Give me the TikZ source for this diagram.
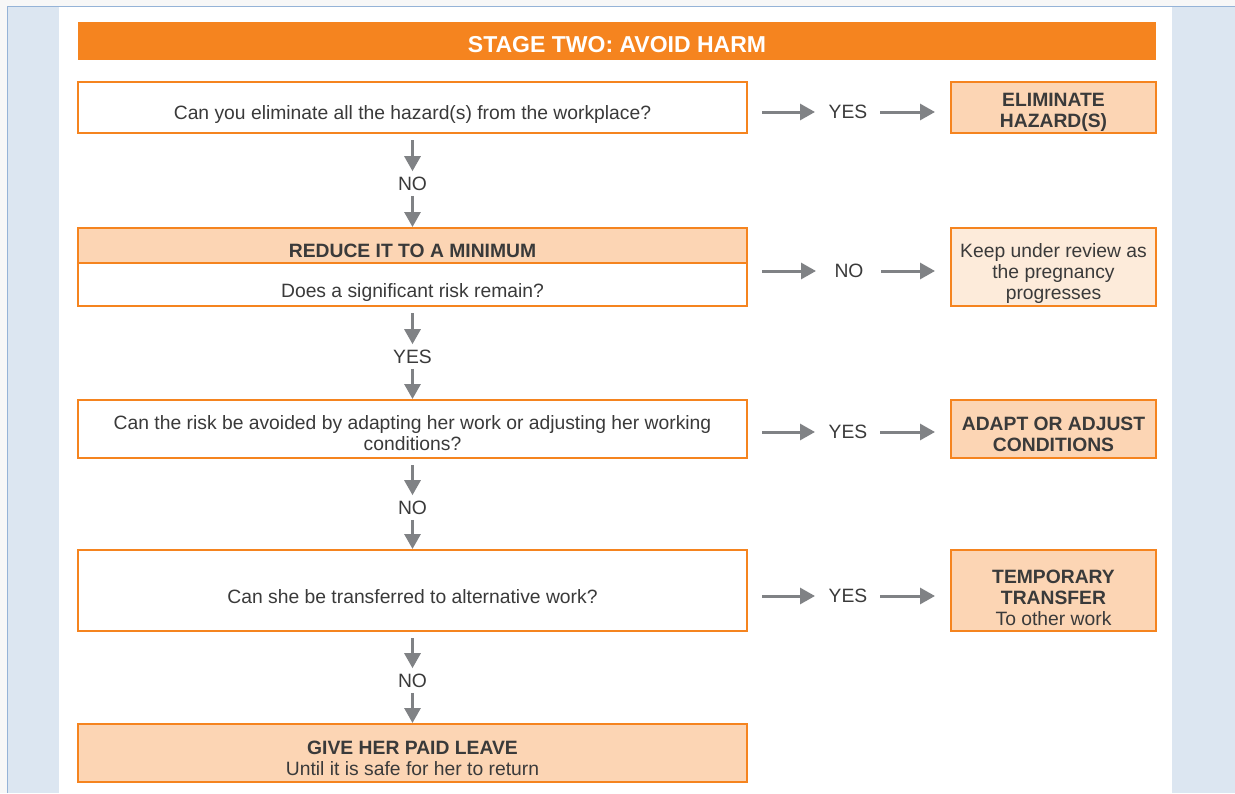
\documentclass[tikz,border=0pt]{standalone}
\usepackage{fontspec}
\setmainfont{Liberation Sans}
\usetikzlibrary{arrows.meta}
\definecolor{org}{HTML}{F5841F}
\definecolor{peach}{HTML}{FCD5B4}
\definecolor{lpeach}{HTML}{FDEBDA}
\definecolor{bgblue}{HTML}{DCE6F1}
\definecolor{bdblue}{HTML}{95B3D7}
\definecolor{pagebg}{HTML}{F7F7F7}
\definecolor{arrc}{HTML}{808285}
\definecolor{txtc}{HTML}{3A3A3A}
\begin{document}
\begin{tikzpicture}[x=1pt,y=-1pt,
  bx/.style={draw=org, line width=1.6pt, inner sep=0pt, outer sep=0pt, anchor=north west},
  tx/.style={font=\fontsize{19.3}{21}\selectfont, text=txtc, inner sep=0pt, outer sep=0pt, align=center},
  bt/.style={tx, font=\fontsize{19.3}{21}\selectfont\bfseries},
  lbl/.style={tx, anchor=center},
  arr/.style={draw=arrc, line width=3pt, -{Triangle[width=16pt,length=15pt]}},
  dnA/.style={arr, shorten <=7pt, shorten >=6pt},
  dnB/.style={arr, shorten <=5pt, shorten >=1pt},
  rtA/.style={arr, shorten <=15pt, shorten >=33pt},
  rtB/.style={arr, shorten <=32pt, shorten >=16pt}]
\fill[pagebg] (0,0) rectangle (1235,793);
\path[use as bounding box] (0,0) rectangle (1235,793);
\fill[bgblue] (7.5,6.5) rectangle (1235,793);
\draw[bdblue, line width=1.2pt] (7.5,793) -- (7.5,6.5) -- (1235,6.5);
\fill[white] (59,7.2) rectangle (1172,793);

% header
\node[fill=org, inner sep=0pt, outer sep=0pt, anchor=north west, minimum width=1078pt, minimum height=38pt] (hdr) at (78,22) {};
\node[font=\fontsize{23}{25}\selectfont\bfseries, text=white, inner sep=0pt, anchor=base] (hdrt) at (617,52.5) {STAGE TWO: AVOID HARM};

% left column boxes
\node[bx, fill=white, minimum width=669pt, minimum height=51pt] (q1) at (78,82) {};
\node[bx, fill=peach, minimum width=669pt, minimum height=35pt] (q2t) at (78,228) {};
\node[bx, fill=white, minimum width=669pt, minimum height=43pt] (q2b) at (78,263) {};
\node[bx, fill=white, minimum width=669pt, minimum height=58pt] (q3) at (78,400) {};
\node[bx, fill=white, minimum width=669pt, minimum height=81pt] (q4) at (78,550) {};
\node[bx, fill=peach, minimum width=669pt, minimum height=58pt] (q5) at (78,724) {};

% right column boxes
\node[bx, fill=peach, minimum width=205pt, minimum height=51pt] (r1) at (951,82) {};
\node[bx, fill=lpeach, minimum width=205pt, minimum height=78pt] (r2) at (951,228) {};
\node[bx, fill=peach, minimum width=205pt, minimum height=58pt] (r3) at (951,400) {};
\node[bx, fill=peach, minimum width=205pt, minimum height=81pt] (r4) at (951,550) {};

% texts (base anchor = baseline of last line)
\node[tx, anchor=base] (q1x) at (412.5,119) {Can you eliminate all the hazard(s) from the workplace?};
\node[bt, anchor=base] (q2tx) at (412.5,257) {REDUCE IT TO A MINIMUM};
\node[tx, anchor=base] (q2bx) at (412.5,297) {Does a significant risk remain?};
\node[tx, anchor=base] (q3x) at (412.5,450) {Can the risk be avoided by adapting her work or adjusting her working\\conditions?};
\node[tx, anchor=base] (q4x) at (412.5,603) {Can she be transferred to alternative work?};
\node[bt, anchor=base] (q5x) at (412.5,775) {GIVE HER PAID LEAVE\\{\mdseries Until it is safe for her to return}};

\node[bt, anchor=base] (r1x) at (1053.5,127) {ELIMINATE\\HAZARD(S)};
\node[tx, anchor=base] (r2x) at (1053.5,299) {Keep under review as\\the pregnancy\\progresses};
\node[bt, anchor=base] (r3x) at (1053.5,451) {ADAPT OR ADJUST\\CONDITIONS};
\node[bt, anchor=base] (r4x) at (1053.5,625) {TEMPORARY\\TRANSFER\\{\mdseries To other work}};

% labels
\node[lbl] (n1) at (412.5,184) {NO};
\node[lbl] (y2) at (412.5,357) {YES};
\node[lbl] (n3) at (412.5,508) {NO};
\node[lbl] (n4) at (412.5,681) {NO};
\node[lbl] (y1) at (848,112) {YES};
\node[lbl] (n2) at (849,271) {NO};
\node[lbl] (y3) at (848,432) {YES};
\node[lbl] (y4) at (848,596) {YES};

% vertical connectors
\draw[dnA] (q1.south) -- (n1.north);
\draw[dnB] (n1.south) -- (q2t.north);
\draw[dnA] (q2b.south) -- (y2.north);
\draw[dnB] (y2.south) -- (q3.north);
\draw[dnA] (q3.south) -- (n3.north);
\draw[dnB] (n3.south) -- (q4.north);
\draw[dnA] (q4.south) -- (n4.north);
\draw[dnB] (n4.south) -- (q5.north);

% horizontal connectors
\draw[rtA] (q1.east |- y1) -- (y1.center);
\draw[rtB] (y1.center) -- (r1.west |- y1);
\draw[rtA] (q2b.east |- n2) -- (n2.center);
\draw[rtB] (n2.center) -- (r2.west |- n2);
\draw[rtA] (q3.east |- y3) -- (y3.center);
\draw[rtB] (y3.center) -- (r3.west |- y3);
\draw[rtA] (q4.east |- y4) -- (y4.center);
\draw[rtB] (y4.center) -- (r4.west |- y4);
\end{tikzpicture}
\end{document}
